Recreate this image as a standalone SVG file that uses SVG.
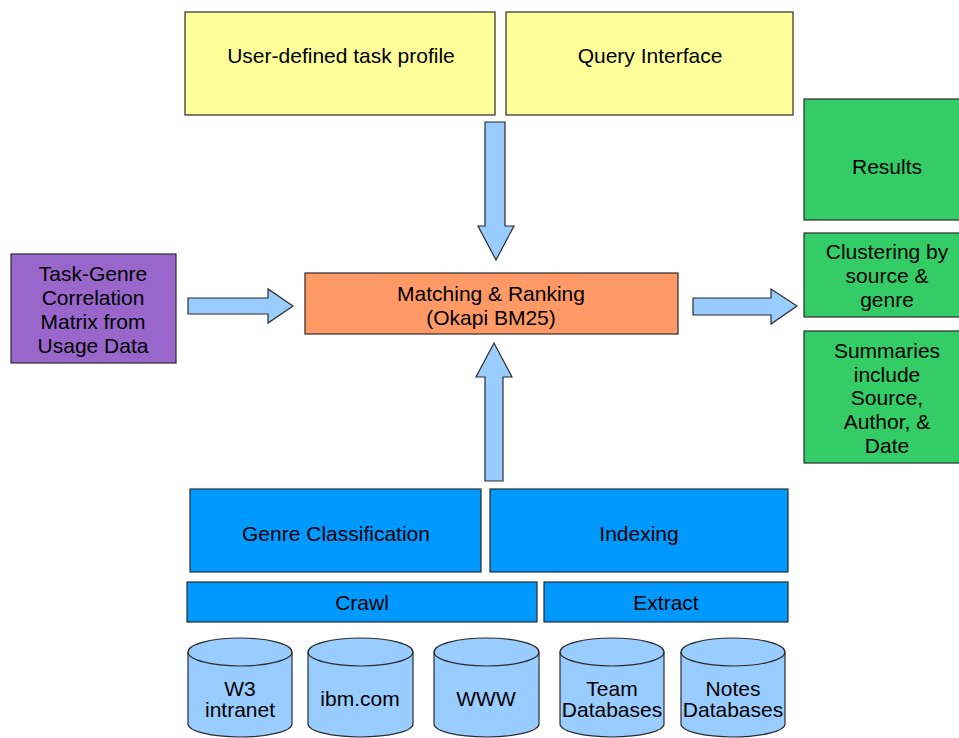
<svg xmlns="http://www.w3.org/2000/svg" width="959" height="738" viewBox="0 0 959 738">
  <style>
    .box { stroke: #2b2b2b; stroke-width: 1.2; }
    .yellow { fill: #ffff99; }
    .orange { fill: #ff9966; }
    .purple { fill: #9966cc; }
    .green { fill: #33cc66; }
    .blue { fill: #0099ff; }
    .db { fill: #99ccff; stroke: #2b2b2b; stroke-width: 1.2; }
    .rim { fill: none; stroke: #2b2b2b; stroke-width: 1.2; }
    .arrow { fill: #99ccff; stroke: #2b2b2b; stroke-width: 1.2; stroke-linejoin: miter; }
    text { font-family: "Liberation Sans", Arial, sans-serif; font-size: 21px; fill: #000; text-anchor: middle; dominant-baseline: central; }
  </style>
  <rect width="959" height="738" fill="#ffffff"/>

  <g id="task-profile">
    <rect class="box yellow" x="185" y="12" width="310" height="103"/>
    <text x="341" y="55">User-defined task profile</text>
  </g>
  <g id="query-interface">
    <rect class="box yellow" x="506" y="12" width="287" height="103"/>
    <text x="650" y="55">Query Interface</text>
  </g>

  <g id="matching-ranking">
    <rect class="box orange" x="305" y="273" width="373" height="61"/>
    <text x="491" y="293">Matching &amp; Ranking</text>
    <text x="491" y="317">(Okapi BM25)</text>
  </g>

  <g id="task-genre-matrix">
    <rect class="box purple" x="11" y="254" width="165" height="109"/>
    <text x="93" y="273">Task-Genre</text>
    <text x="93" y="297">Correlation</text>
    <text x="93" y="321">Matrix from</text>
    <text x="93" y="345">Usage Data</text>
  </g>

  <g id="results">
    <rect class="box green" x="804" y="99" width="160" height="121"/>
    <text x="887" y="166">Results</text>
  </g>
  <g id="clustering">
    <rect class="box green" x="804" y="233" width="160" height="84"/>
    <text x="887" y="251">Clustering by</text>
    <text x="887" y="275">source &amp;</text>
    <text x="887" y="299">genre</text>
  </g>
  <g id="summaries">
    <rect class="box green" x="804" y="331" width="160" height="132"/>
    <text x="887" y="350">Summaries</text>
    <text x="887" y="374">include</text>
    <text x="887" y="397">Source,</text>
    <text x="887" y="421">Author, &amp;</text>
    <text x="887" y="445">Date</text>
  </g>

  <g id="genre-classification">
    <rect class="box blue" x="190" y="489" width="291" height="83"/>
    <text x="336" y="533">Genre Classification</text>
  </g>
  <g id="indexing">
    <rect class="box blue" x="490" y="489" width="298" height="83"/>
    <text x="639" y="533">Indexing</text>
  </g>
  <g id="crawl">
    <rect class="box blue" x="187" y="582" width="350" height="40"/>
    <text x="362" y="602">Crawl</text>
  </g>
  <g id="extract">
    <rect class="box blue" x="544" y="582" width="244" height="40"/>
    <text x="666" y="602">Extract</text>
  </g>

  <g id="db-w3">
    <path class="db" d="M188,652 A52,14 0 0 1 292,652 V724 A52,13 0 0 1 188,724 Z"/>
    <path class="rim" d="M188,652 A52,14 0 0 0 292,652"/>
    <text x="240" y="688">W3</text>
    <text x="240" y="709">intranet</text>
  </g>
  <g id="db-ibm">
    <path class="db" d="M308,652 A52.5,14 0 0 1 413,652 V724 A52.5,13 0 0 1 308,724 Z"/>
    <path class="rim" d="M308,652 A52.5,14 0 0 0 413,652"/>
    <text x="360" y="698">ibm.com</text>
  </g>
  <g id="db-www">
    <path class="db" d="M434,652 A52.5,14 0 0 1 539,652 V724 A52.5,13 0 0 1 434,724 Z"/>
    <path class="rim" d="M434,652 A52.5,14 0 0 0 539,652"/>
    <text x="486" y="698">WWW</text>
  </g>
  <g id="db-team">
    <path class="db" d="M560,652 A52,14 0 0 1 664,652 V724 A52,13 0 0 1 560,724 Z"/>
    <path class="rim" d="M560,652 A52,14 0 0 0 664,652"/>
    <text x="612" y="688">Team</text>
    <text x="612" y="709">Databases</text>
  </g>
  <g id="db-notes">
    <path class="db" d="M681,652 A52,14 0 0 1 785,652 V724 A52,13 0 0 1 681,724 Z"/>
    <path class="rim" d="M681,652 A52,14 0 0 0 785,652"/>
    <text x="733" y="688">Notes</text>
    <text x="733" y="709">Databases</text>
  </g>

  <g id="connectors">
    <!-- query down into matching -->
    <path class="arrow" d="M485,122 H505 V226 H514 L496,260 L478,226 H485 Z"/>
    <!-- index up into matching -->
    <path class="arrow" d="M485,481 V377 H476 L494,343 L512,377 H503 V481 Z"/>
    <!-- matrix into matching -->
    <path class="arrow" d="M188,298 H268 V289 L293,306 L268,323 V314 H188 Z"/>
    <!-- matching out to results -->
    <path class="arrow" d="M693,298 H771 V289 L797,306 L771,324 V315 H693 Z"/>
  </g>
</svg>
